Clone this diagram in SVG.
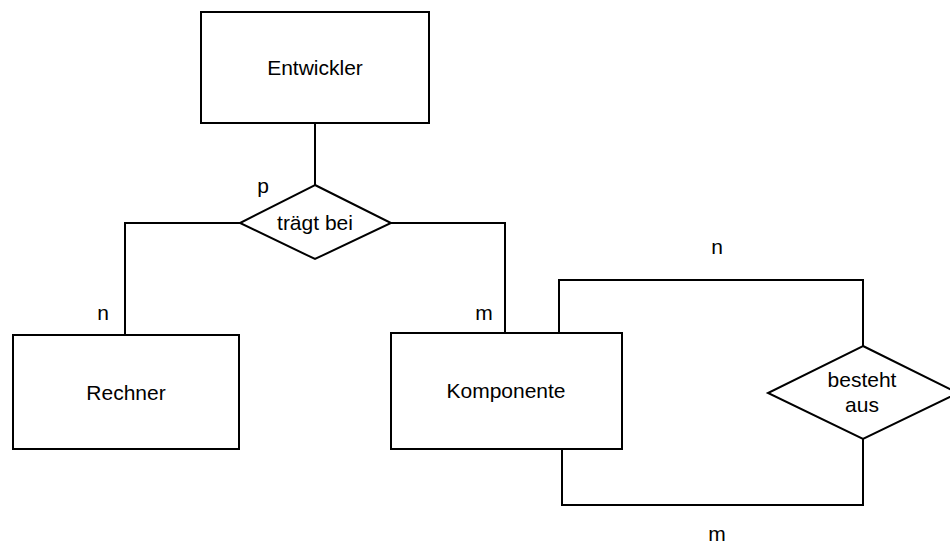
<svg xmlns="http://www.w3.org/2000/svg" width="950" height="546" viewBox="0 0 950 546">
<style>
.box{fill:#fff;stroke:#000;stroke-width:2}
.ln{fill:none;stroke:#000;stroke-width:2}
text{font-family:"Liberation Sans",Arial,sans-serif;font-size:21px;fill:#000;text-anchor:middle}
</style>
<rect width="950" height="546" fill="#fff"/>
<g id="connectors">
<path class="ln" d="M315,123 V185"/>
<path class="ln" d="M240,223 H125 V335"/>
<path class="ln" d="M391,223 H505 V333"/>
<path class="ln" d="M559,337 V280 H863 V346"/>
<path class="ln" d="M562,449 V505 H863 V439"/>
</g>
<g id="entwickler">
<rect class="box" x="201" y="12" width="228" height="111"/>
<text x="315" y="75">Entwickler</text>
</g>
<g id="rechner">
<rect class="box" x="13" y="335" width="226" height="114"/>
<text x="126" y="400">Rechner</text>
</g>
<g id="komponente">
<rect class="box" x="391" y="333" width="231" height="116"/>
<text x="506" y="398">Komponente</text>
</g>
<g id="traegt_bei">
<polygon class="box" points="315,185 391,223 315,259 240,223"/>
<text x="315" y="230">trägt bei</text>
</g>
<g id="besteht_aus">
<polygon class="box" points="863,346 958,393 863,439 768,393"/>
<text x="862" y="387">besteht</text>
<text x="862" y="412">aus</text>
</g>
<g id="labels">
<text x="263" y="193">p</text>
<text x="103" y="320">n</text>
<text x="484" y="320">m</text>
<text x="717" y="254">n</text>
<text x="717" y="541">m</text>
</g>
</svg>
